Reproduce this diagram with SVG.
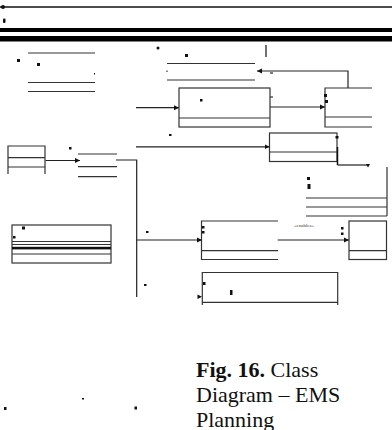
<svg xmlns="http://www.w3.org/2000/svg" width="392" height="430" viewBox="0 0 392 430">
<style>
.l{stroke:#333;stroke-width:1.2;fill:none}
.b{fill:#fff;stroke:#333;stroke-width:1.2}
.d{fill:#111}
.c{stroke:#222;stroke-width:1.2;fill:none}
.cap{font-family:"Liberation Serif",serif;font-size:22px;fill:#111}
.lbl{font-family:"Liberation Serif",serif;font-size:5px;fill:#333}
</style>
<defs>
<marker id="ah" markerWidth="6" markerHeight="6" refX="5" refY="3" orient="auto" markerUnits="userSpaceOnUse"><path d="M0,0.5 L5,3 L0,5.5 Z" fill="#111"/></marker>
</defs>
<rect width="392" height="430" fill="#fff"/>
<g id="header">
<line x1="0" y1="7" x2="392" y2="7" stroke="#111" stroke-width="1.5"/>
<circle cx="3" cy="7" r="2" class="d"/>
<rect x="3" y="18.5" width="2.5" height="4.5" rx="1" class="d"/>
<rect x="0" y="28" width="392" height="4" fill="#000"/>
<rect x="0" y="36" width="392" height="5.5" fill="#000"/>
<circle cx="158" cy="48" r="1.5" class="d"/>
<line x1="266" y1="45" x2="266" y2="57" stroke="#111" stroke-width="1.2"/>
</g>
<g id="node-topleft">
<line x1="28" y1="53" x2="95" y2="53" class="l"/>
<line x1="28" y1="82.5" x2="95" y2="82.5" class="l"/>
<line x1="28" y1="91.5" x2="95" y2="91.5" class="l"/>
<rect x="17" y="59" width="3" height="3" class="d"/>
<rect x="37" y="63" width="3" height="3" class="d"/>
<rect x="94" y="73" width="1" height="1.5" class="d"/>
</g>
<g id="node-topmid">
<line x1="167" y1="63.5" x2="255" y2="63.5" class="l"/>
<line x1="167" y1="80" x2="255" y2="80" class="l"/>
<rect x="185" y="54" width="3" height="3" class="d"/>
<rect x="166.5" y="70.5" width="1" height="1.5" class="d"/>
</g>
<g id="node-A">
<rect x="179" y="88" width="91" height="39" class="b"/>
<line x1="179" y1="118" x2="270" y2="118" class="l"/>
<rect x="200" y="99" width="2.5" height="2.5" class="d"/>
<line x1="270" y1="97" x2="273" y2="97" class="l"/>
</g>
<g id="node-B">
<path d="M372,88 H325 V127 H372 M325,117 H372" class="l"/>
<rect x="324" y="94" width="3" height="3" class="d"/>
<rect x="325" y="100" width="3" height="3" class="d"/>
</g>
<g id="node-C">
<rect x="269.5" y="133" width="67.5" height="28.5" class="b"/>
<line x1="269.5" y1="152" x2="337" y2="152" class="l"/>
<line x1="337.5" y1="147" x2="337.5" y2="165" stroke="#111" stroke-width="1.5"/>
<rect x="335.5" y="136" width="3" height="2.5" class="d"/>
</g>
<g id="node-right">
<line x1="387" y1="167" x2="387" y2="216" class="l"/>
<line x1="306" y1="198" x2="387" y2="198" class="l"/>
<line x1="306" y1="207" x2="387" y2="207" class="l"/>
<line x1="306" y1="216" x2="387" y2="216" class="l"/>
<rect x="307" y="177" width="3" height="3" class="d"/>
<rect x="307.5" y="184" width="3" height="5" class="d"/>
</g>
<g id="node-D">
<path d="M8,174 V146 H45 V174 M8,157.7 H45 M8,167 H45" class="l"/>
<rect x="69" y="147" width="2.5" height="2.5" class="d"/>
</g>
<g id="node-mid">
<line x1="78" y1="154" x2="117" y2="154" class="l"/>
<line x1="78" y1="166.7" x2="117" y2="166.7" class="l"/>
<line x1="78" y1="176.7" x2="117" y2="176.7" class="l"/>
</g>
<g id="node-E">
<rect x="12" y="225" width="99" height="38" class="b"/>
<line x1="12" y1="241.5" x2="111" y2="241.5" class="l"/>
<line x1="12" y1="244.5" x2="111" y2="244.5" class="l"/>
<rect x="12" y="246.8" width="99" height="2.6" fill="#111"/>
<line x1="12" y1="254" x2="111" y2="254" class="l"/>
<rect x="22" y="226.5" width="3" height="3" class="d"/>
<rect x="13" y="236" width="2.5" height="2.5" class="d"/>
</g>
<g id="node-F">
<path d="M278,221 H201.5 V259.5 H278 M201.5,250.7 H278" class="l"/>
<rect x="202" y="226" width="2.5" height="2.5" class="d"/>
<rect x="202" y="231" width="2.5" height="2.5" class="d"/>
</g>
<g id="node-G">
<rect x="349" y="221" width="37.5" height="38.5" class="b"/>
<line x1="349" y1="250.7" x2="386.5" y2="250.7" class="l"/>
<rect x="341" y="227" width="2.5" height="2.5" class="d"/>
<rect x="341" y="232.5" width="2.5" height="2.5" class="d"/>
</g>
<g id="node-H">
<path d="M202.3,305 V272.5 H337.7 V305 M202.3,302.3 H337.7" class="l"/>
<rect x="203" y="282" width="2.5" height="3" class="d"/>
<rect x="230" y="290" width="2.5" height="5" class="d"/>
</g>
<g id="connectors">
<path d="M348,88 V71 H257" class="c" marker-end="url(#ah)"/>
<line x1="270" y1="73" x2="273" y2="73" class="c"/>
<line x1="136" y1="107.7" x2="179" y2="107.7" class="c" marker-end="url(#ah)"/>
<line x1="270" y1="107" x2="325" y2="107" class="c" marker-end="url(#ah)"/>
<line x1="136" y1="146.8" x2="269.5" y2="146.8" class="c" marker-end="url(#ah)"/>
<rect x="169" y="134" width="2.5" height="2" class="d"/>
<path d="M337.5,165 H368" class="c"/>
<path d="M366,164 L370,164 L368,167.5 Z" class="d"/>
<line x1="45.5" y1="160.5" x2="80" y2="160.5" class="c" marker-end="url(#ah)"/>
<path d="M116,160 H136.7 V297" class="c"/>
<line x1="136.7" y1="240" x2="202" y2="240" class="c" marker-end="url(#ah)"/>
<rect x="146" y="231" width="2.5" height="2" class="d"/>
<rect x="144" y="284" width="2.5" height="2" class="d"/>
<line x1="277.7" y1="240" x2="349" y2="240" class="c" marker-end="url(#ah)"/>
<text x="294" y="226.5" class="lbl">«enables»</text>
<path d="M197.5,294.5 L202,296.7 L197.5,299 Z" class="d"/>
</g>
<g id="footer">
<rect x="4" y="407" width="2.5" height="3" class="d"/>
<rect x="82" y="398" width="2" height="1.5" class="d"/>
<rect x="134.5" y="406.5" width="2.5" height="3" class="d"/>
<text x="196" y="377" class="cap"><tspan font-weight="bold">Fig. 16.</tspan> Class</text>
<text x="196" y="402" class="cap">Diagram – EMS</text>
<text x="196" y="426.5" class="cap">Planning</text>
</g>
</svg>
